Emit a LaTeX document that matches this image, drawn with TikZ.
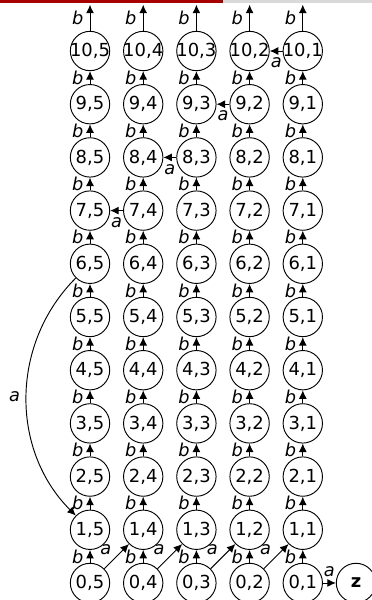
\documentclass[tikz,border=0pt]{standalone}
\usepackage{fontspec}
\setmainfont{DejaVu Sans}
\usetikzlibrary{arrows.meta}
\definecolor{barred}{HTML}{A80000}
\definecolor{bargray}{HTML}{D9D9D9}

\begin{document}
\begin{tikzpicture}[>={Latex[length=1.6mm,width=1.5mm]}, line width=0.5pt,
    state/.style={circle, draw, minimum size=0.74cm, inner sep=-1.5pt, font=\fontsize{9.6}{10}\selectfont},
    lbl/.style={font=\fontsize{9.5}{10}\selectfont\itshape}]
      \useasboundingbox (-1.692,-0.32) rectangle (5.30,10.959);
      \fill[bargray] (-1.692,10.903) rectangle (5.30,10.959);
      \fill[barred] (-1.692,10.903) rectangle (2.50,10.959);

      \foreach \i in {0,...,10} {
        \foreach \j in {1,...,5} {
          \node[state] (s\i-\j) at ({5-\j},\i) {\i,\j};
        }
      }
      \node[state, font=\fontsize{9.6}{10}\selectfont\bfseries] (z) at (5,0) {z};

      % b steps up each column
      \foreach \i [evaluate=\i as \k using int(\i+1)] in {0,...,9} {
        \foreach \j in {1,...,5} {
          \draw[->] (s\i-\j) -- (s\k-\j) node[midway, left, lbl] {b};
        }
      }
      \foreach \j in {1,...,5} {
        \coordinate (out\j) at ({5-\j},10.87);
        \draw[->] (s10-\j) -- (out\j) node[midway, left, lbl] {b};
      }

      % a steps
      \draw[->] (s10-1) -- (s10-2) node[midway, below, lbl] {a};
      \draw[->] (s9-2) -- (s9-3) node[midway, below, lbl] {a};
      \draw[->] (s8-3) -- (s8-4) node[midway, below, lbl] {a};
      \draw[->] (s7-4) -- (s7-5) node[midway, below, lbl] {a};
      \draw[->] (s6-5) to[bend right=45] node[midway, left, lbl] {a} (s1-5);
      \foreach \j [evaluate=\j as \k using int(\j-1)] in {2,...,5} {
        \draw[->] (s0-\j) -- (s1-\k) node[pos=0.42, above left, inner sep=1.5pt, lbl] {a};
      }
      \draw[->] (s0-1) -- (z) node[midway, above, lbl] {a};
    \end{tikzpicture}
\end{document}
